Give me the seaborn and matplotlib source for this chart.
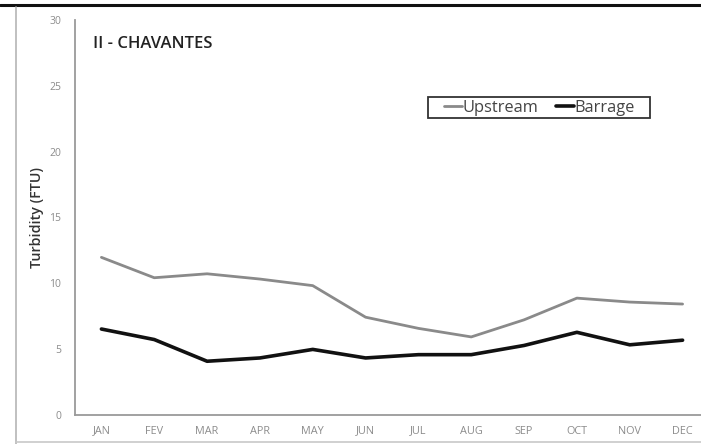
import numpy as np
import pandas as pd
import matplotlib
matplotlib.use("Agg")
import matplotlib.pyplot as plt
import seaborn as sns
from matplotlib.lines import Line2D
from matplotlib.patches import Rectangle

months = ["JAN", "FEV", "MAR", "APR", "MAY", "JUN", "JUL", "AUG", "SEP", "OCT", "NOV", "DEC"]
upstream = [11.95, 10.4, 10.7, 10.3, 9.8, 7.4, 6.55, 5.9, 7.2, 8.85, 8.55, 8.4]
barrage = [6.5, 5.7, 4.05, 4.3, 4.95, 4.3, 4.55, 4.55, 5.25, 6.25, 5.3, 5.65]
series_names = ["Upstream", "Barrage"]
yticks = [0, 5, 10, 15, 20, 25, 30]

df = pd.DataFrame({
    "month": months * 2,
    "turbidity": upstream + barrage,
    "series": [series_names[0]] * len(months) + [series_names[1]] * len(months),
})

sns.set_style("white")
plt.rcParams["font.family"] = ["Open Sans", "DejaVu Sans"]

W, H = 701, 444
fig = plt.figure(figsize=(W / 100, H / 100), dpi=100)
# axes box in pixels: x 75 -> 709, y 20 -> 414.5
ax = fig.add_axes([75 / W, 1 - 414.5 / H, (709 - 75) / W, (414.5 - 20) / H])

sns.lineplot(data=df, x="month", y="turbidity", hue="series", sort=False,
             palette={"Upstream": "#8a8a8a", "Barrage": "#111111"},
             linewidth=2.2, ax=ax, legend=False)
for ln, lw in zip(ax.lines, [2.0, 2.6]):
    ln.set_linewidth(lw)

ax.set_xlim(-0.5, 11.5)
ax.set_ylim(0, 30)
ax.set_yticks(yticks)
ax.set_xticks(np.arange(-0.5, 12, 1.0))
ax.set_xticklabels([])
ax.set_xticks(np.arange(12), minor=True)
ax.set_xticklabels(months, minor=True)
ax.tick_params(axis="x", which="major", length=4, width=1, color="#9a9a9a", direction="out")
ax.tick_params(axis="x", which="minor", length=0, pad=8, labelsize=7.8, labelcolor="#8c8c8c")
ax.tick_params(axis="y", length=4, width=1, color="#9a9a9a", direction="out",
               labelsize=7.5, labelcolor="#8c8c8c", pad=6)

for side in ["top", "right"]:
    ax.spines[side].set_visible(False)
for side in ["left", "bottom"]:
    ax.spines[side].set_color("#9a9a9a")
    ax.spines[side].set_linewidth(1.3)

ax.set_xlabel("")
ax.set_ylabel("Turbidity (FTU)", fontsize=10.3, fontweight="semibold", color="#333333", labelpad=4)
ax.text(93 / W, 1 - 44 / H, "II - CHAVANTES", transform=fig.transFigure,
        fontsize=12, fontweight="semibold", color="#222222", va="center", ha="left")

# legend: content without frame, frame drawn as a box with wider side padding
handles = [Line2D([], [], color="#8a8a8a", lw=2.0), Line2D([], [], color="#111111", lw=2.6)]
leg = fig.legend(handles, series_names, loc="center",
                 bbox_to_anchor=(539.5 / W, 1 - 107.5 / H), ncol=2, fontsize=11.8,
                 frameon=False, handlelength=1.1, handletextpad=0.0,
                 columnspacing=1.1, borderpad=0.0, borderaxespad=0)
for t in leg.get_texts():
    t.set_color("#444444")
fig.add_artist(Rectangle((428 / W, 1 - 118 / H), (650 - 428) / W, 21 / H,
                         transform=fig.transFigure, fill=False,
                         edgecolor="#333333", lw=1.3))

# outer frame lines of the original picture
fig.add_artist(Line2D([0, 1], [1 - 5 / H, 1 - 5 / H], transform=fig.transFigure,
                      color="#111111", lw=2.2))
fig.add_artist(Line2D([16 / W, 16 / W], [0, 1 - 7 / H], transform=fig.transFigure,
                      color="#b5b5b5", lw=1.2))
fig.add_artist(Line2D([16 / W, 1], [2 / H, 2 / H], transform=fig.transFigure,
                      color="#c8c8c8", lw=1.2))

fig.savefig("out.png", dpi=100)
